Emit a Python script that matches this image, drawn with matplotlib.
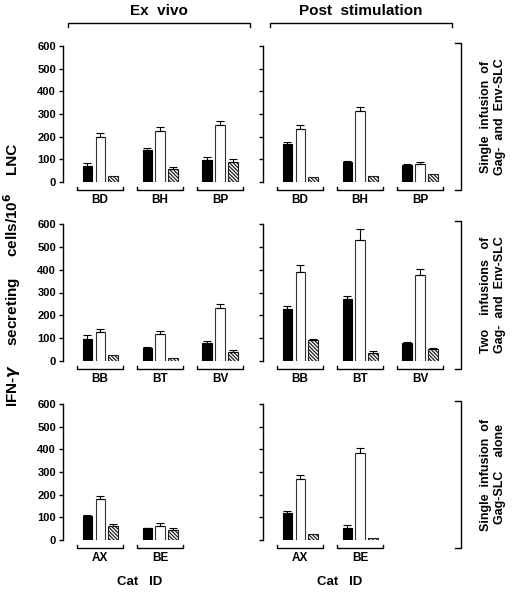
import matplotlib
matplotlib.use("Agg")
import matplotlib.pyplot as plt
import matplotlib.transforms as mtransforms

plt.rcParams['font.family'] = ['Liberation Sans', 'DejaVu Sans']
plt.rcParams['font.weight'] = 'bold'
plt.rcParams['hatch.linewidth'] = 0.9

# data: (black, white, hatched) means and upper errors
cats_top = ["BD", "BH", "BP"]
cats_mid = ["BB", "BT", "BV"]
cats_bot = ["AX", "BE"]

top_ex_val = [[70, 200, 28], [140, 225, 57], [97, 252, 90]]
top_ex_err = [[15, 17, 0], [12, 17, 8], [12, 17, 10]]
top_ps_val = [[168, 234, 22], [88, 313, 25], [75, 79, 35]]
top_ps_err = [[10, 16, 0], [5, 17, 0], [5, 9, 0]]

mid_ex_val = [[98, 128, 28], [57, 120, 12], [78, 232, 40]]
mid_ex_err = [[15, 10, 0], [5, 12, 0], [8, 18, 6]]
mid_ps_val = [[228, 390, 92], [270, 532, 35], [78, 375, 52]]
mid_ps_err = [[12, 30, 4], [15, 45, 7], [5, 30, 5]]

bot_ex_val = [[105, 183, 60], [52, 60, 45]]
bot_ex_err = [[7, 12, 12], [3, 15, 6]]
bot_ps_val = [[118, 268, 28], [55, 382, 8]]
bot_ps_err = [[10, 20, 0], [12, 25, 0]]

row_titles = ["Single  infusion  of\nGag-  and  Env-SLC",
              "Two    infusions   of\nGag-  and  Env-SLC",
              "Single  infusion  of\nGag-SLC    alone"]

fig = plt.figure(figsize=(5.12, 5.92), dpi=100)

W, H = 512.0, 592.0
left_x = [63, 263]
ax_w = 184
rows_px = [(46, 182), (224, 361), (404, 540)]

offsets = [-0.215, 0.0, 0.215]
bw = 0.155
styles = [dict(color='black', edgecolor='black'),
          dict(color='white', edgecolor='#333333'),
          dict(color='white', edgecolor='#222222', hatch='\\' * 9)]


def draw_panel(ax, cats, vals, errs, show_labels):
    for i, name in enumerate(cats):
        for k in range(3):
            x = i + offsets[k]
            v = vals[i][k]
            e = errs[i][k]
            ax.bar(x, v, width=bw, linewidth=0.8, **styles[k])
            if e > 0:
                ax.errorbar(x, v, yerr=[[0], [e]], fmt='none', ecolor='black',
                            elinewidth=0.8, capsize=3, capthick=0.8)
        # group bracket below the axis
        tr = mtransforms.blended_transform_factory(ax.transData, ax.transAxes)
        x0, x1 = i - 0.38, i + 0.38
        yb = -0.06
        ax.plot([x0, x0, x1, x1], [yb + 0.02, yb, yb, yb + 0.02], color='black',
                lw=1.0, transform=tr, clip_on=False)
        ax.text(i, yb - 0.03, name, transform=tr, ha='center', va='top',
                fontsize=8.5, fontweight='bold')
    ax.set_xlim(-0.62, 2.45)
    ax.set_ylim(0, 600)
    ax.set_yticks([0, 100, 200, 300, 400, 500, 600])
    for s in ['top', 'right', 'bottom']:
        ax.spines[s].set_visible(False)
    ax.spines['left'].set_linewidth(1.0)
    ax.set_xticks([])
    ax.tick_params(axis='y', length=3, width=1.0, labelsize=8, pad=2)
    if not show_labels:
        ax.set_yticklabels([])
    else:
        for t in ax.get_yticklabels():
            t.set_fontweight('bold')


panels = [
    (cats_top, top_ex_val, top_ex_err, top_ps_val, top_ps_err),
    (cats_mid, mid_ex_val, mid_ex_err, mid_ps_val, mid_ps_err),
    (cats_bot, bot_ex_val, bot_ex_err, bot_ps_val, bot_ps_err),
]

for r, (cats, ev, ee, pv, pe) in enumerate(panels):
    y_top, y_bot = rows_px[r]
    b = 1 - y_bot / H
    h = (y_bot - y_top) / H
    ax1 = fig.add_axes([left_x[0] / W, b, ax_w / W, h])
    draw_panel(ax1, cats, ev, ee, True)
    ax2 = fig.add_axes([left_x[1] / W, b, ax_w / W, h])
    draw_panel(ax2, cats, pv, pe, False)

    # right-hand bracket and row title
    xb = 461 / W
    yt = 1 - (y_top - 3) / H
    yb2 = 1 - (y_bot + 8) / H
    fig.add_artist(plt.Line2D([xb - 6 / W, xb, xb, xb - 6 / W], [yt, yt, yb2, yb2],
                              color='black', lw=1.0))
    fig.text(493 / W, (yt + yb2) / 2, row_titles[r], rotation=90, ha='center',
             va='center', fontsize=9, fontweight='bold', linespacing=1.3)

# column headers with brackets
for x0, x1, title in [(68, 250, "Ex  vivo"), (270, 452, "Post  stimulation")]:
    yl = 1 - 23 / H
    fig.add_artist(plt.Line2D([x0 / W, x0 / W, x1 / W, x1 / W],
                              [yl - 4 / H, yl, yl, yl - 4 / H], color='black', lw=1.0))
    fig.text((x0 + x1) / 2 / W, 1 - 11 / H, title, ha='center', va='center',
             fontsize=11, fontweight='bold')

# y labels
fig.text(12 / W, 1 - 158 / H, "LNC", rotation=90, ha='center', va='center',
         fontsize=11, fontweight='bold')
fig.text(12 / W, 1 - 300 / H, r"IFN-$\gamma$     secreting     cells/10$^6$",
         rotation=90, ha='center', va='center', fontsize=11, fontweight='bold')

# x labels
fig.text(140 / W, 1 - 582 / H, "Cat   ID", ha='center', va='center',
         fontsize=9.5, fontweight='bold')
fig.text(340 / W, 1 - 582 / H, "Cat   ID", ha='center', va='center',
         fontsize=9.5, fontweight='bold')

fig.savefig("out.png", dpi=100)
